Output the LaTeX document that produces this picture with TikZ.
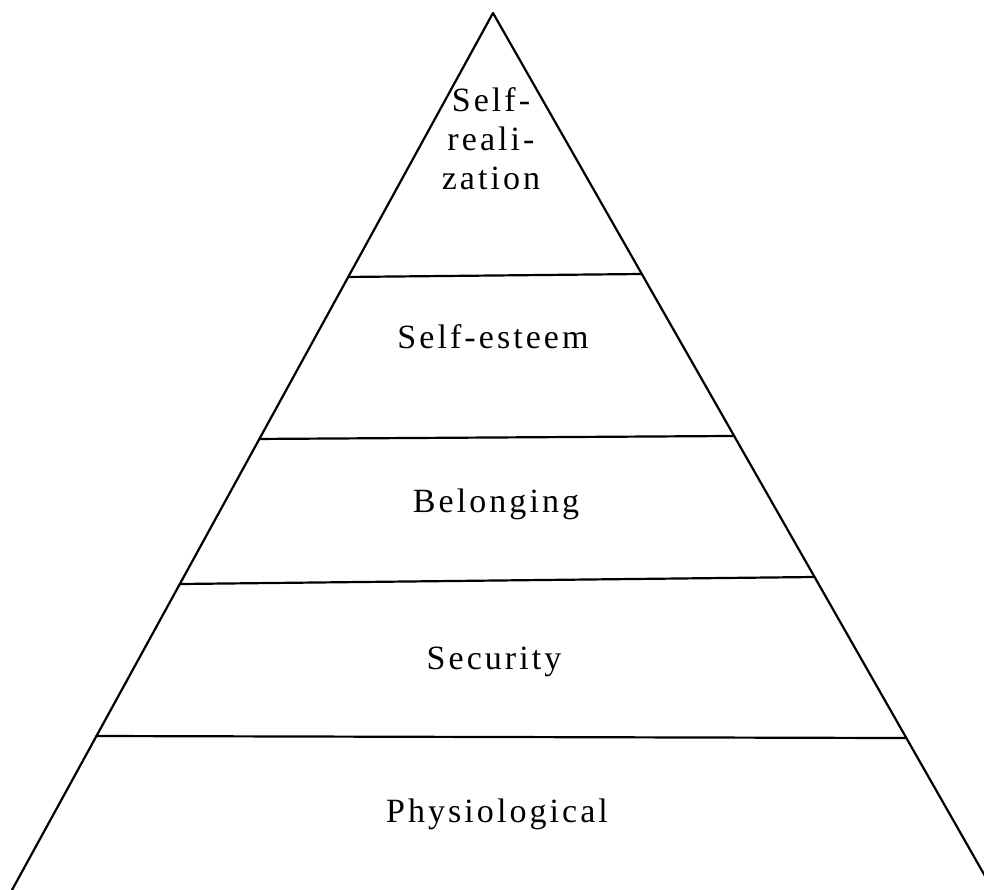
\documentclass[tikz,border=0pt]{standalone}
\usepackage{fontspec}
\setmainfont{Liberation Serif}[LetterSpace=9]
\usetikzlibrary{calc}
\begin{document}
\begin{tikzpicture}[x=1pt,y=-1pt,
  edge/.style={line width=2.2pt,line cap=round,line join=round},
  levellabel/.style={anchor=base,inner sep=0pt,font=\fontsize{34}{39}\selectfont,align=center}]
  \useasboundingbox (0,0) rectangle (984,890);
  \clip (0,0) rectangle (984,890);
  % corners of the pyramid
  \coordinate (apex) at (493,13);
  \coordinate (bl) at (12,890);
  \coordinate (br) at (993,890);
  % sides
  \draw[edge] (bl) -- (apex) -- (br);
  % level dividers
  \coordinate (l1) at ($(apex)!0.3010!(bl)$);
  \coordinate (r1) at ($(apex)!0.2976!(br)$);
  \coordinate (l2) at ($(apex)!0.4857!(bl)$);
  \coordinate (r2) at ($(apex)!0.4823!(br)$);
  \coordinate (l3) at ($(apex)!0.6511!(bl)$);
  \coordinate (r3) at ($(apex)!0.6431!(br)$);
  \coordinate (l4) at ($(apex)!0.8244!(bl)$);
  \coordinate (r4) at ($(apex)!0.8267!(br)$);
  \draw[edge] (l1) -- (r1);
  \draw[edge] (l2) -- (r2);
  \draw[edge] (l3) -- (r3);
  \draw[edge] (l4) -- (r4);
  % level labels (a multi-line label sits on its last baseline)
  \node[levellabel] (top) at (491,190) {Self-\\reali-\\zation};
  \node[levellabel] (esteem) at (493,348) {Self-esteem};
  \node[levellabel] (belong) at (496,512) {Belonging};
  \node[levellabel] (secur) at (494,669) {Security};
  \node[levellabel] (physio) at (497,822) {Physiological};
\end{tikzpicture}
\end{document}
